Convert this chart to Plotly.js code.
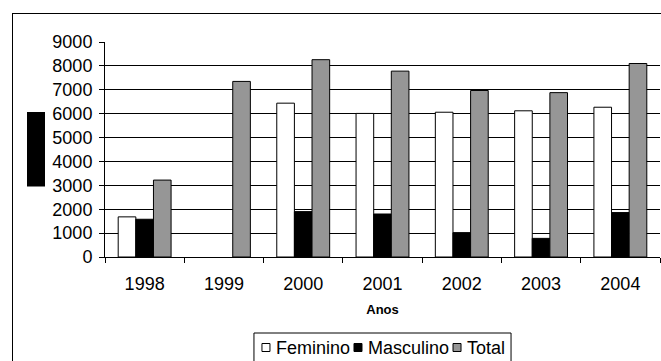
<!DOCTYPE html>
<html>
<head>
<meta charset="utf-8">
<script src="https://cdn.plot.ly/plotly-3.0.1.min.js"></script>
<style>
  html, body { margin: 0; padding: 0; background: #fff; }
  #chart { width: 661px; height: 361px; }
</style>
</head>
<body>
<div id="chart"></div>
<script>
// Registos por ano, por sexo e total
const anos = ['1998', '1999', '2000', '2001', '2002', '2003', '2004'];
const feminino = [1680, null, 6440, 6010, 6060, 6120, 6270];
const masculino = [1580, null, 1900, 1800, 1020, 780, 1860];
const total = [3220, 7350, 8260, 7780, 6970, 6880, 8100];
const yTicks = [0, 1000, 2000, 3000, 4000, 5000, 6000, 7000, 8000, 9000];

const W = 661, H = 361;
const plotL = 105, plotR = 660, plotT = 42, plotB = 257;
const pw = plotR - plotL, ph = plotB - plotT;
// pixel -> paper coordinates for decorations outside the plot area
const px = x => (x - plotL) / pw;
const py = y => (plotB - y) / ph;

const FAMILY = '"Liberation Sans", Arial, sans-serif';
const FSIZE = 18;
const font = { family: FAMILY, size: FSIZE, color: '#000' };

const barLine = { color: '#000', width: 1 };
const traces = [
  { name: 'Feminino', x: anos, y: feminino, type: 'bar',
    marker: { color: '#ffffff', line: barLine } },
  { name: 'Masculino', x: anos, y: masculino, type: 'bar',
    marker: { color: '#000000', line: barLine } },
  { name: 'Total', x: anos, y: total, type: 'bar',
    marker: { color: '#969696', line: barLine } }
];

// Compact boxed legend below the axis title: swatch + name, in one row
function measure(text) {
  const ctx = document.createElement('canvas').getContext('2d');
  ctx.font = FSIZE + 'px ' + FAMILY;
  return ctx.measureText(text).width;
}
const SW = 8, GAP_IN = 4, GAP_OUT = 6, PAD = 8;
const legendTop = 333, legendMid = 347.5;
const widths = traces.map(t => measure(t.name));
const boxW = PAD * 2 + widths.reduce((s, w) => s + SW + GAP_IN + w, 0) + GAP_OUT * (traces.length - 1);
const boxL = plotL + pw / 2 - boxW / 2;

const legendShapes = [
  { type: 'rect', xref: 'paper', yref: 'paper', x0: px(boxL), x1: px(boxL + boxW),
    y0: py(legendTop), y1: py(legendTop + 40), fillcolor: '#fff', line: { color: '#000', width: 1 } }
];
const legendNotes = [];
let cx = boxL + PAD;
traces.forEach((t, i) => {
  legendShapes.push({ type: 'rect', xref: 'paper', yref: 'paper',
    x0: px(cx), x1: px(cx + SW), y0: py(legendMid - SW / 2), y1: py(legendMid + SW / 2),
    fillcolor: t.marker.color, line: { color: '#000', width: 1 } });
  cx += SW + GAP_IN;
  legendNotes.push({ xref: 'paper', yref: 'paper', x: px(cx), y: py(legendMid),
    xanchor: 'left', yanchor: 'middle', showarrow: false, text: t.name, font: font });
  cx += widths[i] + GAP_OUT;
});

const layout = {
  width: W, height: H,
  margin: { l: plotL, r: W - plotR, t: plotT, b: H - plotB, pad: 0, autoexpand: false },
  paper_bgcolor: '#fff', plot_bgcolor: '#fff',
  font: font,
  barmode: 'group', bargap: 0.333, bargroupgap: 0,
  showlegend: false,
  xaxis: {
    type: 'category', categoryorder: 'array', categoryarray: anos,
    showline: true, linecolor: '#000', linewidth: 1,
    ticks: 'outside', tickson: 'boundaries', ticklen: 5, tickcolor: '#000',
    showgrid: false, zeroline: false, automargin: false,
    tickfont: font, ticklabelstandoff: 10,
    title: { text: 'Anos', font: { family: FAMILY, size: 13, color: '#000', weight: 'bold' }, standoff: 12 }
  },
  yaxis: {
    range: [0, 9000], tickvals: yTicks, ticktext: yTicks.map(String),
    showline: true, linecolor: '#000', linewidth: 1,
    ticks: 'outside', ticklen: 5, tickcolor: '#000',
    showgrid: true, gridcolor: '#000', gridwidth: 1, zeroline: false, automargin: false,
    tickfont: font, ticklabelstandoff: 3
  },
  shapes: [
    // outer chart frame (top and left edges visible)
    { type: 'line', xref: 'paper', yref: 'paper', x0: px(12), x1: px(700), y0: py(13.5), y1: py(13.5),
      line: { color: '#000', width: 1 } },
    { type: 'line', xref: 'paper', yref: 'paper', x0: px(12.5), x1: px(12.5), y0: py(13), y1: py(400),
      line: { color: '#000', width: 1 } },
    // vertical axis title block
    { type: 'rect', xref: 'paper', yref: 'paper', x0: px(27), x1: px(45), y0: py(112), y1: py(186.5),
      fillcolor: '#000', line: { width: 0 } }
  ].concat(legendShapes),
  annotations: legendNotes
};

Plotly.newPlot('chart', traces, layout, { displayModeBar: false, staticPlot: true });
</script>
</body>
</html>
